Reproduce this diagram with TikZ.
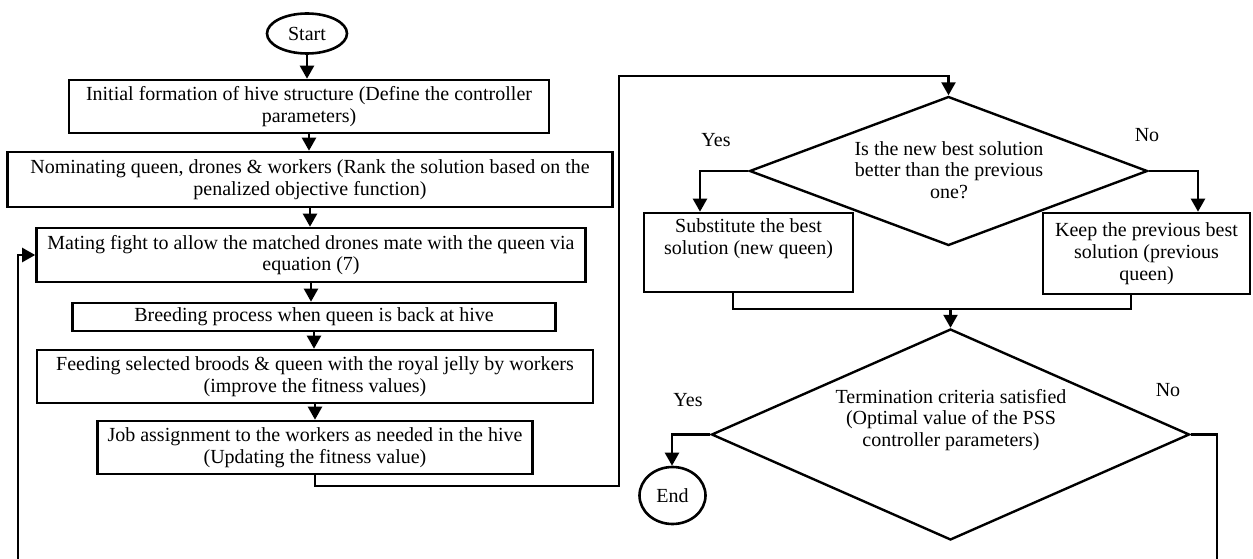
\documentclass[tikz,border=0pt]{standalone}
\usepackage{fontspec}
\setmainfont{Liberation Serif}
\usetikzlibrary{shapes.geometric,arrows.meta}
\begin{document}
\begin{tikzpicture}[x=1pt,y=-1pt,
  every node/.style={font=\fontsize{20}{21.7}\selectfont},
  procbox/.style={draw, line width=2.6pt, align=center, inner sep=0pt},
  term/.style={draw, ellipse, line width=2.6pt, inner sep=0pt},
  decis/.style={draw, diamond, line width=2.4pt, inner sep=0pt},
  conn/.style={line width=2.3pt, -{Triangle[length=13pt,width=14pt]}},
  plain/.style={line width=2.3pt},
  lbl/.style={inner sep=0pt, align=center}
]
\useasboundingbox (0,0) rectangle (1253,559);

% left column
\node[term, minimum width=80pt, minimum height=40pt] (start) at (307,33.5) {Start};
\node[procbox, minimum width=480pt, minimum height=53pt] (b1) at (309,106.5)
  {Initial formation of hive structure (Define the controller\\parameters)};
\node[procbox, minimum width=605pt, minimum height=55pt] (b2) at (310,179.5)
  {Nominating queen, drones \& workers (Rank the solution based on the\\penalized objective function)};
\node[procbox, minimum width=549pt, minimum height=54pt] (b3) at (311,255)
  {Mating fight to allow the matched drones mate with the queen via\\equation (7)};
\node[procbox, minimum width=483pt, minimum height=28pt] (b4) at (314,317)
  {Breeding process when queen is back at hive};
\node[procbox, minimum width=556pt, minimum height=53pt] (b5) at (315,376.5)
  {Feeding selected broods \& queen with the royal jelly by workers\\(improve the fitness values)};
\node[procbox, minimum width=435pt, minimum height=53pt] (b6) at (315,447.5)
  {Job assignment to the workers as needed in the hive\\(Updating the fitness value)};

\draw[conn] (start.south) -- (start.south |- b1.north);
\draw[conn] (b1.south) -- (b1.south |- b2.north);
\draw[conn] (b2.south) -- (b2.south |- b3.north);
\draw[conn] (b3.south) -- (b3.south |- b4.north);
\draw[conn] (b4.south) -- (b4.south |- b5.north);
\draw[conn] (b5.south) -- (b5.south |- b6.north);

% loop back into mating
\coordinate (loopbot) at (18,559);
\draw[conn] (loopbot) |- (b3.west);

% right column
\node[decis, minimum width=398pt, minimum height=149pt] (d1) at (948.5,171) {};
\node[lbl] (d1t) at (949,170) {Is the new best solution\\better than the previous\\one?};

\node[draw, line width=2.6pt, minimum width=209pt, minimum height=79pt, inner sep=0pt] (sub) at (748.5,252.5) {};
\node[lbl] (subt) at (748.5,239) {Substitute the best\\solution (new queen)};
\node[procbox, minimum width=207pt, minimum height=81pt] (keep) at (1146.5,253.5)
  {Keep the previous best\\solution (previous\\queen)};

\node[decis, minimum width=478pt, minimum height=211pt] (d2) at (950.5,434.5) {};
\node[lbl] (d2t) at (951,420) {Termination criteria satisfied\\(Optimal value of the PSS\\controller parameters)};

\node[term, minimum width=66pt, minimum height=57pt] (end) at (672.5,495.5) {End};

% job -> decision 1
\coordinate (r1) at (619,486);
\coordinate (r2) at (619,76);
\draw[conn] (b6.south) |- (r1) -- (r2) -| (d1.north);

% decision 1 branches
\coordinate (ya) at (700,171);
\coordinate (na) at (1198,171);
\draw[conn] (d1.west) -- (ya) -- (ya |- sub.north);
\draw[conn] (d1.east) -- (na) -- (na |- keep.north);
\node[lbl] (yes1) at (716,140) {Yes};
\node[lbl] (no1) at (1147,135) {No};

% merge
\coordinate (m1) at (733,309);
\coordinate (m2) at (1131,309);
\draw[plain] (sub.south -| m1) -- (m1) -- (m2) -- (keep.south -| m2);
\draw[conn] (d2.north |- m1) -- (d2.north);

% decision 2 branches
\coordinate (yb) at (672,434.5);
\coordinate (nb) at (1217,434.5);
\coordinate (nbb) at (1217,559);
\draw[conn] (d2.west) -- (yb) -- (yb |- end.north);
\draw[plain] (d2.east) -- (nb) -- (nbb);
\node[lbl] (yes2) at (688,400) {Yes};
\node[lbl] (no2) at (1168,390) {No};
\end{tikzpicture}
\end{document}
